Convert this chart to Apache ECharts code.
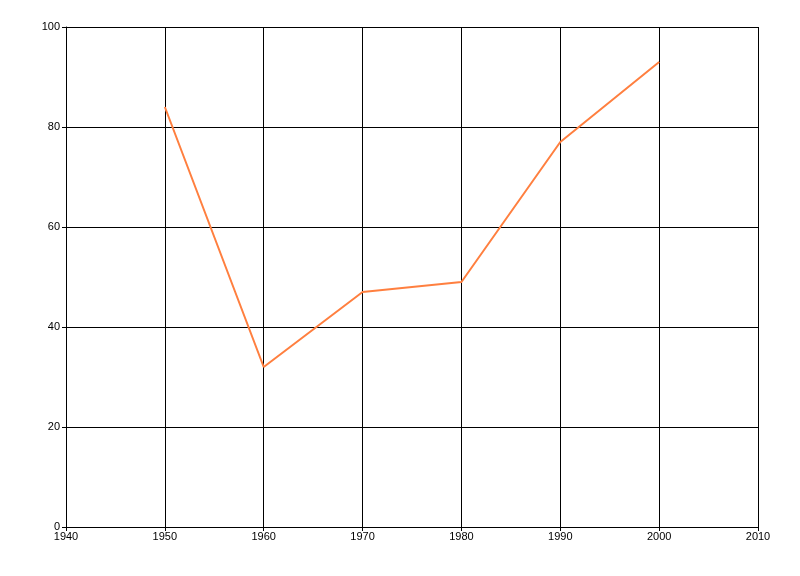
<!DOCTYPE html>
<html><head><meta charset="utf-8">
<script src="https://cdn.jsdelivr.net/npm/echarts@6/dist/echarts.min.js"></script>
<style>html,body{margin:0;padding:0;background:#fff}#c{width:800px;height:576px}</style>
</head><body><div id="c"></div>
<script>
var years = [1950, 1960, 1970, 1980, 1990, 2000];
var values = [84, 32, 47, 49, 77, 93];
var chart = echarts.init(document.getElementById('c'), null, {renderer:'canvas'});
var axisCommon = {
  axisLine:{show:true, lineStyle:{color:'#000', width:1}},
  axisTick:{show:true, length:4, lineStyle:{color:'#000'}},
  splitLine:{show:true, lineStyle:{color:'#000', width:1}},
  axisLabel:{color:'#000', fontFamily:'Liberation Sans, Arial, sans-serif', fontSize:11, formatter:function(v){return String(v);}}
};
chart.setOption({
  animation:false,
  grid:{left:66, right:42, top:27, bottom:49, containLabel:false},
  xAxis:Object.assign({type:'value', min:1940, max:2010, interval:10}, axisCommon, {axisLabel:Object.assign({}, axisCommon.axisLabel, {margin:4})}),
  yAxis:Object.assign({type:'value', min:0, max:100, interval:20}, axisCommon, {axisLabel:Object.assign({}, axisCommon.axisLabel, {margin:6})}),
  series:[{type:'line', data:years.map(function(y,i){return [y, values[i]];}), showSymbol:false, symbol:'none',
    lineStyle:{color:'#FF7F3F', width:2}, itemStyle:{color:'#FF7F3F'}}]
});
</script></body></html>
